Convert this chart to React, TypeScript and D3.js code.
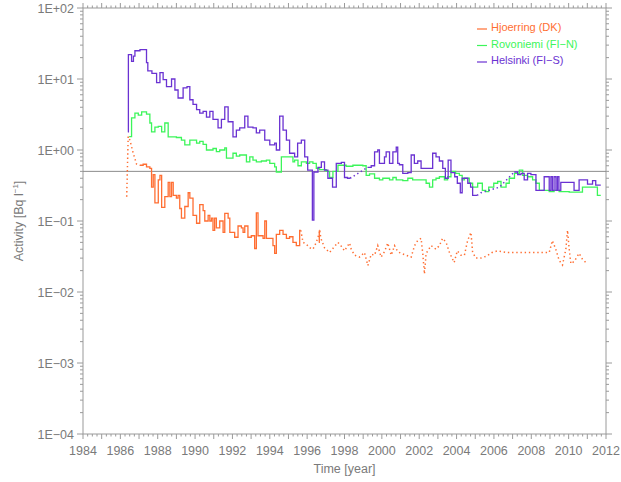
import React from "react";
import * as d3 from "d3";

type Pt = [number, number];

const xDomain: [number, number] = [1984, 2012];
const yDomain: [number, number] = [1e-4, 1e2];
const xLabelYears = [1984, 1986, 1988, 1990, 1992, 1994, 1996, 1998, 2000, 2002, 2004, 2006, 2008, 2010, 2012];
const referenceLevel = 0.5;

const legendNames = ["Hjoerring (DK)", "Rovoniemi (FI\u2212N)", "Helsinki (FI\u2212S)"];
const legendColors = ["#ff6e32", "#3cf55a", "#6a32d2"];

// Helsinki (FI-S)
const helsinkiA: Pt[] = [
  [1986.40, 1.8], [1986.43, 22], [1986.60, 17.7], [1986.70, 21], [1986.78, 25], [1987.05, 26], [1987.40, 17], [1987.47, 13],
  [1987.69, 12], [1987.94, 8.9], [1988.12, 12.3], [1988.29, 9.8], [1988.47, 7.8], [1988.74, 10], [1988.92, 7],
  [1989.09, 5.4], [1989.36, 7.5], [1989.57, 7.8], [1989.72, 5.1], [1989.89, 4.4], [1990.08, 3.7], [1990.25, 3.3],
  [1990.43, 3.5], [1990.61, 2.9], [1990.79, 3.5], [1990.96, 2.7], [1991.23, 2.05], [1991.41, 2.7], [1991.59, 4.05],
  [1991.77, 2.5], [1992.03, 1.53], [1992.21, 1.9], [1992.39, 2.05], [1992.66, 3.0], [1992.83, 2.1], [1993.10, 2.05],
  [1993.28, 1.74], [1993.46, 1.9], [1993.73, 1.38], [1994.00, 1.18], [1994.26, 1.25], [1994.35, 1.0], [1994.53, 3.0],
  [1994.71, 1.9], [1994.89, 1.38], [1995.06, 0.9], [1995.33, 0.8], [1995.49, 1.25], [1995.69, 1.38], [1995.87, 0.8],
  [1996.03, 0.52], [1996.28, 0.103], [1996.36, 0.49], [1996.58, 0.57], [1996.76, 0.68], [1996.93, 0.52],
  [1997.11, 0.40], [1997.36, 0.30], [1997.56, 0.65], [1997.83, 0.67], [1998.00, 0.41], [1998.16, 0.40], [1998.30, 0.40],
];
const helsinkiGap1: Pt[] = [[1998.30, 0.40], [1999.23, 0.57]];
const helsinkiB: Pt[] = [
  [1999.23, 0.57], [1999.43, 0.60], [1999.61, 0.94], [1999.78, 1.0], [1999.87, 0.65], [2000.14, 0.8], [2000.23, 0.94],
  [2000.41, 0.65], [2000.59, 0.94], [2000.77, 1.1], [2000.85, 0.65], [2000.94, 0.62], [2001.12, 0.47], [2001.39, 0.48],
  [2001.57, 0.85], [2001.74, 0.65], [2001.92, 0.7], [2002.10, 0.55], [2002.37, 0.55], [2002.72, 0.9], [2002.90, 0.8],
  [2003.08, 0.7], [2003.26, 0.55], [2003.40, 0.40], [2003.55, 0.72], [2003.70, 0.48], [2003.90, 0.42], [2004.04, 0.34],
  [2004.20, 0.25], [2004.30, 0.40], [2004.60, 0.34], [2004.75, 0.30], [2004.86, 0.23], [2005.10, 0.23],
];
const helsinkiGap2: Pt[] = [[2005.10, 0.23], [2005.30, 0.25], [2006.30, 0.30], [2007.09, 0.49]];
const helsinkiC: Pt[] = [
  [2007.09, 0.49], [2007.27, 0.45], [2007.45, 0.47], [2007.62, 0.38], [2007.80, 0.47], [2007.98, 0.45], [2008.25, 0.27],
  [2008.69, 0.42], [2008.96, 0.27], [2009.05, 0.42], [2009.13, 0.27], [2009.22, 0.42], [2009.32, 0.27], [2009.40, 0.42],
  [2009.48, 0.27], [2009.58, 0.35], [2010.29, 0.27], [2010.56, 0.38], [2011.01, 0.33], [2011.28, 0.37], [2011.45, 0.32],
  [2011.72, 0.32],
];

// Rovoniemi (FI-N)
const rovoniemi: Pt[] = [
  [1986.47, 1.54], [1986.60, 2.83], [1986.78, 3.3], [1986.96, 3.1], [1987.14, 3.45], [1987.40, 3.2], [1987.58, 2.4],
  [1987.67, 1.8], [1987.85, 2.1], [1988.03, 2.15], [1988.21, 1.8], [1988.38, 2.4], [1988.56, 1.53], [1989.00, 1.5],
  [1989.27, 1.38], [1989.45, 1.18], [1989.72, 1.38], [1990.08, 1.25], [1990.25, 1.32], [1990.43, 1.2], [1990.61, 1.0],
  [1990.96, 1.05], [1991.14, 0.95], [1991.32, 1.0], [1991.59, 1.07], [1991.68, 0.77], [1992.03, 0.9], [1992.21, 0.82],
  [1992.39, 0.85], [1992.75, 0.68], [1992.93, 0.8], [1993.10, 0.72], [1993.28, 0.68], [1993.55, 0.7], [1993.82, 0.72],
  [1994.00, 0.65], [1994.26, 0.58], [1994.35, 0.49], [1994.62, 0.8], [1995.24, 0.68], [1995.33, 0.72], [1995.51, 0.6],
  [1995.69, 0.68], [1995.96, 0.65], [1996.13, 0.68], [1996.31, 0.65], [1996.49, 0.55], [1996.67, 0.53], [1997.02, 0.5],
  [1997.20, 0.41], [1997.38, 0.5], [1997.65, 0.61], [1998.09, 0.59], [1998.45, 0.61], [1998.98, 0.6], [1999.16, 0.44],
  [1999.34, 0.46], [1999.61, 0.40], [1999.87, 0.38], [2000.05, 0.40], [2000.41, 0.38], [2000.59, 0.41], [2000.77, 0.38],
  [2001.12, 0.37], [2001.39, 0.40], [2001.65, 0.38], [2002.00, 0.38], [2002.37, 0.34], [2002.55, 0.30], [2002.72, 0.38],
  [2002.90, 0.40], [2003.08, 0.42], [2003.35, 0.38], [2003.52, 0.42], [2003.70, 0.50], [2003.95, 0.47], [2004.15, 0.44],
  [2004.30, 0.38], [2004.42, 0.40], [2004.68, 0.34], [2004.86, 0.30], [2005.13, 0.34], [2005.38, 0.27], [2005.56, 0.26],
  [2005.72, 0.30], [2005.99, 0.34], [2006.20, 0.36], [2006.38, 0.30], [2006.65, 0.34], [2006.82, 0.40], [2007.10, 0.47],
  [2007.36, 0.52], [2007.54, 0.44], [2007.80, 0.42], [2008.07, 0.38], [2008.25, 0.34], [2008.43, 0.27], [2008.70, 0.27],
  [2008.96, 0.26], [2009.22, 0.27], [2009.49, 0.26], [2010.03, 0.255], [2010.74, 0.30], [2011.54, 0.23], [2011.72, 0.23],
];

// Hjoerring (DK)
const hjoerringLeadIn: Pt[] = [
  [1986.34, 0.22], [1986.42, 1.55], [1986.51, 1.38], [1986.69, 0.9], [1986.87, 0.63], [1987.05, 0.61],
];
const hjoerringA: Pt[] = [
  [1987.05, 0.61], [1987.22, 0.63], [1987.40, 0.58], [1987.58, 0.55], [1987.67, 0.30], [1987.76, 0.45], [1987.85, 0.18],
  [1988.03, 0.38], [1988.12, 0.44], [1988.21, 0.156], [1988.38, 0.22], [1988.56, 0.35], [1988.65, 0.22], [1988.74, 0.35],
  [1988.83, 0.23], [1989.00, 0.21], [1989.09, 0.23], [1989.18, 0.15], [1989.27, 0.11], [1989.45, 0.16], [1989.63, 0.25],
  [1989.72, 0.21], [1989.89, 0.12], [1990.08, 0.093], [1990.25, 0.17], [1990.43, 0.14], [1990.52, 0.10], [1990.70, 0.12],
  [1990.79, 0.10], [1990.88, 0.11], [1990.96, 0.074], [1991.05, 0.11], [1991.14, 0.08], [1991.32, 0.10], [1991.50, 0.069],
  [1991.59, 0.128], [1991.77, 0.11], [1991.86, 0.069], [1992.12, 0.059], [1992.30, 0.085], [1992.48, 0.08],
  [1992.57, 0.069], [1992.66, 0.085], [1992.83, 0.059], [1993.01, 0.062], [1993.19, 0.041], [1993.28, 0.13],
  [1993.37, 0.062], [1993.64, 0.057], [1993.73, 0.10], [1993.82, 0.057], [1994.00, 0.057], [1994.17, 0.045],
  [1994.26, 0.035], [1994.35, 0.065], [1994.53, 0.074], [1994.71, 0.065], [1994.89, 0.057], [1995.06, 0.06],
  [1995.24, 0.05], [1995.42, 0.045], [1995.60, 0.074], [1995.66, 0.074],
];
const hjoerringSpike: Pt[] = [[1996.62, 0.05], [1996.65, 0.072], [1996.72, 0.072]];
const hjoerringB: Pt[] = [
  [1995.66, 0.074], [1995.78, 0.05], [1995.96, 0.047], [1996.13, 0.042], [1996.31, 0.04], [1996.49, 0.05], [1996.67, 0.07],
  [1996.76, 0.055], [1996.93, 0.042], [1997.20, 0.036], [1997.47, 0.044], [1997.65, 0.05], [1997.83, 0.044],
  [1998.00, 0.038], [1998.27, 0.049], [1998.36, 0.04], [1998.54, 0.033], [1998.80, 0.031], [1999.07, 0.036],
  [1999.25, 0.0236], [1999.43, 0.034], [1999.61, 0.033], [1999.78, 0.045], [1999.96, 0.031], [2000.14, 0.037],
  [2000.32, 0.049], [2000.50, 0.033], [2000.68, 0.045], [2000.85, 0.037], [2001.03, 0.035], [2001.30, 0.033],
  [2001.57, 0.031], [2001.75, 0.045], [2001.92, 0.053], [2002.10, 0.057], [2002.19, 0.035], [2002.28, 0.018],
  [2002.37, 0.035], [2002.64, 0.045], [2002.90, 0.04], [2003.08, 0.045], [2003.25, 0.057], [2003.44, 0.05],
  [2003.62, 0.036], [2003.87, 0.026], [2004.04, 0.038], [2004.24, 0.033], [2004.42, 0.033], [2004.59, 0.053],
  [2004.77, 0.069], [2004.86, 0.036], [2005.04, 0.03], [2005.30, 0.03], [2005.60, 0.032], [2005.90, 0.036],
  [2006.20, 0.038], [2006.65, 0.036], [2008.96, 0.036], [2009.13, 0.053], [2009.31, 0.04], [2009.49, 0.028],
  [2009.67, 0.024], [2009.85, 0.04], [2009.94, 0.074], [2010.03, 0.04], [2010.12, 0.025], [2010.30, 0.027],
  [2010.47, 0.032], [2010.56, 0.035], [2010.74, 0.029], [2010.92, 0.026],
];

const W = 621;
const H = 482;
const L = 83;
const R = 606;
const T = 8;
const B = 434;

const axisColor = "#9a9a9a";
const textColor = "#7a7a7a";
const font = "Liberation Sans, Arial, sans-serif";

function fmtExp(v: number): string {
  const e = Math.round(Math.log10(v));
  const s = e >= 0 ? "+" : "\u2212";
  return `1E${s}${String(Math.abs(e)).padStart(2, "0")}`;
}

export default function App() {
  const x = d3.scaleLinear().domain(xDomain).range([L, R]);
  const y = d3.scaleLog().domain(yDomain).range([B, T]);

  const step = d3.line<Pt>().x((d) => x(d[0])).y((d) => y(d[1])).curve(d3.curveStepAfter);
  const lin = d3.line<Pt>().x((d) => x(d[0])).y((d) => y(d[1]));

  const xMinor = d3.range(xDomain[0], xDomain[1] + 0.001, 0.25);
  const yTicks = y.ticks();
  const isMajorY = (v: number) => Math.abs(Math.log10(v) - Math.round(Math.log10(v))) < 1e-6;

  const [cOr, cGr, cPu] = legendColors;
  const dotted = "1.4 2.8";

  return (
    <svg width={W} height={H} style={{ position: "absolute", left: 0, top: 0, background: "#fff" }} fontFamily={font}>
      {/* frame */}
      <rect x={L} y={T} width={R - L} height={B - T} fill="none" stroke={axisColor} strokeWidth={1} />
      {/* x ticks bottom and top */}
      {xMinor.map((t, i) => {
        const major = Math.abs(t - Math.round(t)) < 1e-6;
        const len = major ? 5 : 2.5;
        const px = x(t);
        return (
          <g key={"xt" + i}>
            <line x1={px} x2={px} y1={B} y2={B + len} stroke={axisColor} />
            <line x1={px} x2={px} y1={T} y2={T - len} stroke={axisColor} />
          </g>
        );
      })}
      {xLabelYears.map((yr) => (
        <text key={"xl" + yr} x={x(yr)} y={455} textAnchor="middle" fontSize={12.5} fill={textColor}>
          {yr}
        </text>
      ))}
      {/* y ticks left and right */}
      {yTicks.map((v, i) => {
        const major = isMajorY(v);
        const len = major ? 6 : 3;
        const py = y(v);
        return (
          <g key={"yt" + i}>
            <line x1={L - len} x2={L} y1={py} y2={py} stroke={axisColor} />
            <line x1={R} x2={R + len} y1={py} y2={py} stroke={axisColor} />
          </g>
        );
      })}
      {yTicks.filter(isMajorY).map((v, i) => (
        <text key={"yl" + i} x={74} y={y(v) + 4.5} textAnchor="end" fontSize={12.5} fill={textColor}>
          {fmtExp(v)}
        </text>
      ))}
      {/* axis titles */}
      <text x={(L + R) / 2} y={473} textAnchor="middle" fontSize={12.5} fill={textColor}>
        Time [year]
      </text>
      <text transform={`translate(23,${(T + B) / 2}) rotate(-90)`} textAnchor="middle" fontSize={12.5} fill={textColor}>
        Activity [Bq l
        <tspan fontSize={8} dy={-5}>{"\u22121"}</tspan>
        <tspan dy={5}>]</tspan>
      </text>

      {/* reference line */}
      <line x1={L} x2={R} y1={y(referenceLevel)} y2={y(referenceLevel)} stroke="#8c8c8c" strokeWidth={1} />

      {/* Hjoerring */}
      <path d={lin(hjoerringLeadIn) || ""} fill="none" stroke={cOr} strokeWidth={1.5} strokeDasharray={dotted} />
      <path d={lin(hjoerringB) || ""} fill="none" stroke={cOr} strokeWidth={1.5} strokeDasharray={dotted} />
      <path d={step(hjoerringA) || ""} fill="none" stroke={cOr} strokeWidth={1.3} />
      <path d={step(hjoerringSpike) || ""} fill="none" stroke={cOr} strokeWidth={1.3} />

      {/* Rovoniemi */}
      <path d={step(rovoniemi) || ""} fill="none" stroke={cGr} strokeWidth={1.3} />

      {/* Helsinki */}
      <path d={step(helsinkiA) || ""} fill="none" stroke={cPu} strokeWidth={1.3} />
      <path d={lin(helsinkiGap1) || ""} fill="none" stroke={cPu} strokeWidth={1.5} strokeDasharray={dotted} />
      <path d={step(helsinkiB) || ""} fill="none" stroke={cPu} strokeWidth={1.3} />
      <path d={lin(helsinkiGap2) || ""} fill="none" stroke={cPu} strokeWidth={1.5} strokeDasharray={dotted} />
      <path d={step(helsinkiC) || ""} fill="none" stroke={cPu} strokeWidth={1.3} />

      {/* legend */}
      {legendNames.map((name, i) => {
        const ly = 27 + i * 16.5;
        return (
          <g key={"lg" + i}>
            <line x1={477} x2={487} y1={ly + 2} y2={ly + 2} stroke={legendColors[i]} strokeWidth={1.2} />
            <text x={491} y={ly + 4} fontSize={11} fill={legendColors[i]}>
              {name}
            </text>
          </g>
        );
      })}
    </svg>
  );
}
